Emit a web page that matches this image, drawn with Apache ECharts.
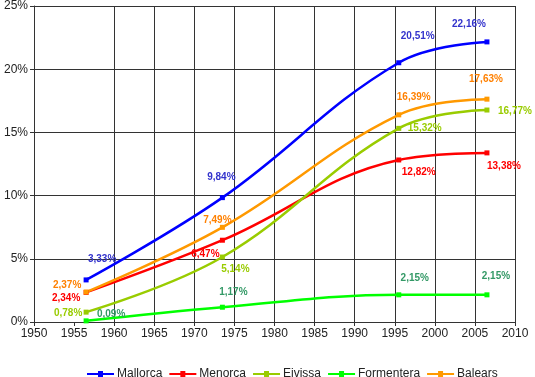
<!DOCTYPE html>
<html>
<head>
<meta charset="utf-8">
<script src="https://cdn.jsdelivr.net/npm/echarts@6/dist/echarts.min.js"></script>
<style>
  html, body { margin: 0; padding: 0; background: #fff; }
  #chart { width: 535px; height: 377px; }
</style>
</head>
<body>
<div id="chart"></div>
<script>
// census years (points sit a bit after the round year)
var years = [1956.5, 1973.5, 1995.5, 2006.5];

var mallorca = [3.33, 9.84, 20.51, 22.16];
var menorca = [2.34, 6.47, 12.82, 13.38];
var eivissa = [0.78, 5.14, 15.32, 16.77];
var formentera = [0.09, 1.17, 2.15, 2.15];
var balears = [2.37, 7.49, 16.39, 17.63];

var seriesNames = ["Mallorca", "Menorca", "Eivissa", "Formentera", "Balears"];

// vertical grid lines (there is none at 1955 in the original)
var gridYears = [1960, 1965, 1970, 1975, 1980, 1985, 1990, 1995, 2000, 2005, 2010];

// label offsets (px) from each point
var offMallorca = [[16, -21], [-1, -20], [19, -27], [-18, -18]];
var offMenorca = [[-20, 6], [-17, 14], [20, 12], [17, 13]];
var offEivissa = [[-18, 1], [13, 12], [26, 0], [28, 1]];
var offFormentera = [[25, -7], [11, -15], [16, -17], [9, -19]];
var offBalears = [[-19, -7], [-5, -7], [15, -18], [-1, -20]];

var lineColors = ["#0000ff", "#ff0000", "#99cc00", "#00ff00", "#ff9900"];
var labelColors = ["#3333cc", "#ff0000", "#99cc00", "#339966", "#ff8000"];

var myChart = echarts.init(document.getElementById("chart"));

function fmt(v) {
  return v.toFixed(2).replace(".", ",") + "%";
}

function makeSeries(idx, values, offsets) {
  var data = [];
  for (var i = 0; i < values.length; i++) {
    data.push({
      value: [years[i], values[i]],
      label: { offset: offsets[i] },
    });
  }
  var s = {
    name: seriesNames[idx],
    type: "line",
    smooth: 0.4,
    symbol: "rect",
    symbolSize: 5,
    showAllSymbol: true,
    lineStyle: { width: 2.5, color: lineColors[idx] },
    itemStyle: { color: lineColors[idx] },
    label: {
      show: true,
      position: "inside",
      fontFamily: "Liberation Sans",
      fontWeight: "bold",
      fontSize: 10,
      color: labelColors[idx],
      formatter: function (p) {
        return fmt(p.value[1]);
      },
    },
    emphasis: { disabled: true },
    z: 3,
    data: data,
  };
  return s;
}

var series = [
  makeSeries(0, mallorca, offMallorca),
  makeSeries(1, menorca, offMenorca),
  makeSeries(2, eivissa, offEivissa),
  makeSeries(3, formentera, offFormentera),
  makeSeries(4, balears, offBalears),
];

// vertical grid drawn as markLines on the first series
series[0].markLine = {
  silent: true,
  symbol: "none",
  label: { show: false },
  lineStyle: { color: "#333", width: 1, type: "solid" },
  emphasis: { disabled: true },
  z: 1,
  data: gridYears.map(function (y) {
    return { xAxis: y };
  }),
};

var option = {
  animation: false,
  backgroundColor: "#fff",
  textStyle: { fontFamily: "Liberation Sans" },
  grid: { left: 34, right: 20, top: 6, bottom: 55 },
  legend: {
    left: 82,
    top: 363,
    itemWidth: 27,
    itemHeight: 10,
    itemGap: 7,
    icon: "path://M0,4 L27,4 L27,6 L0,6 Z M11,2 L16,2 L16,8 L11,8 Z",
    textStyle: { fontSize: 12, color: "#222", padding: [0, 0, 0, -2] },
    data: seriesNames,
  },
  xAxis: {
    type: "value",
    min: 1950,
    max: 2010,
    interval: 5,
    axisLine: { lineStyle: { color: "#333", width: 1 } },
    axisTick: { show: true, length: 4, lineStyle: { color: "#333" } },
    axisLabel: {
      fontSize: 12,
      color: "#222",
      margin: 6,
      formatter: function (v) {
        return String(v);
      },
    },
    splitLine: { show: false },
  },
  yAxis: {
    type: "value",
    min: 0,
    max: 25,
    interval: 5,
    axisLine: { show: true, lineStyle: { color: "#333", width: 1 } },
    axisTick: { show: true, length: 4, lineStyle: { color: "#333" } },
    axisLabel: { fontSize: 12, color: "#222", margin: 6, formatter: "{value}%" },
    splitLine: { show: true, lineStyle: { color: "#333", width: 1 } },
  },
  series: series,
};

option && myChart.setOption(option);
</script>
</body>
</html>
